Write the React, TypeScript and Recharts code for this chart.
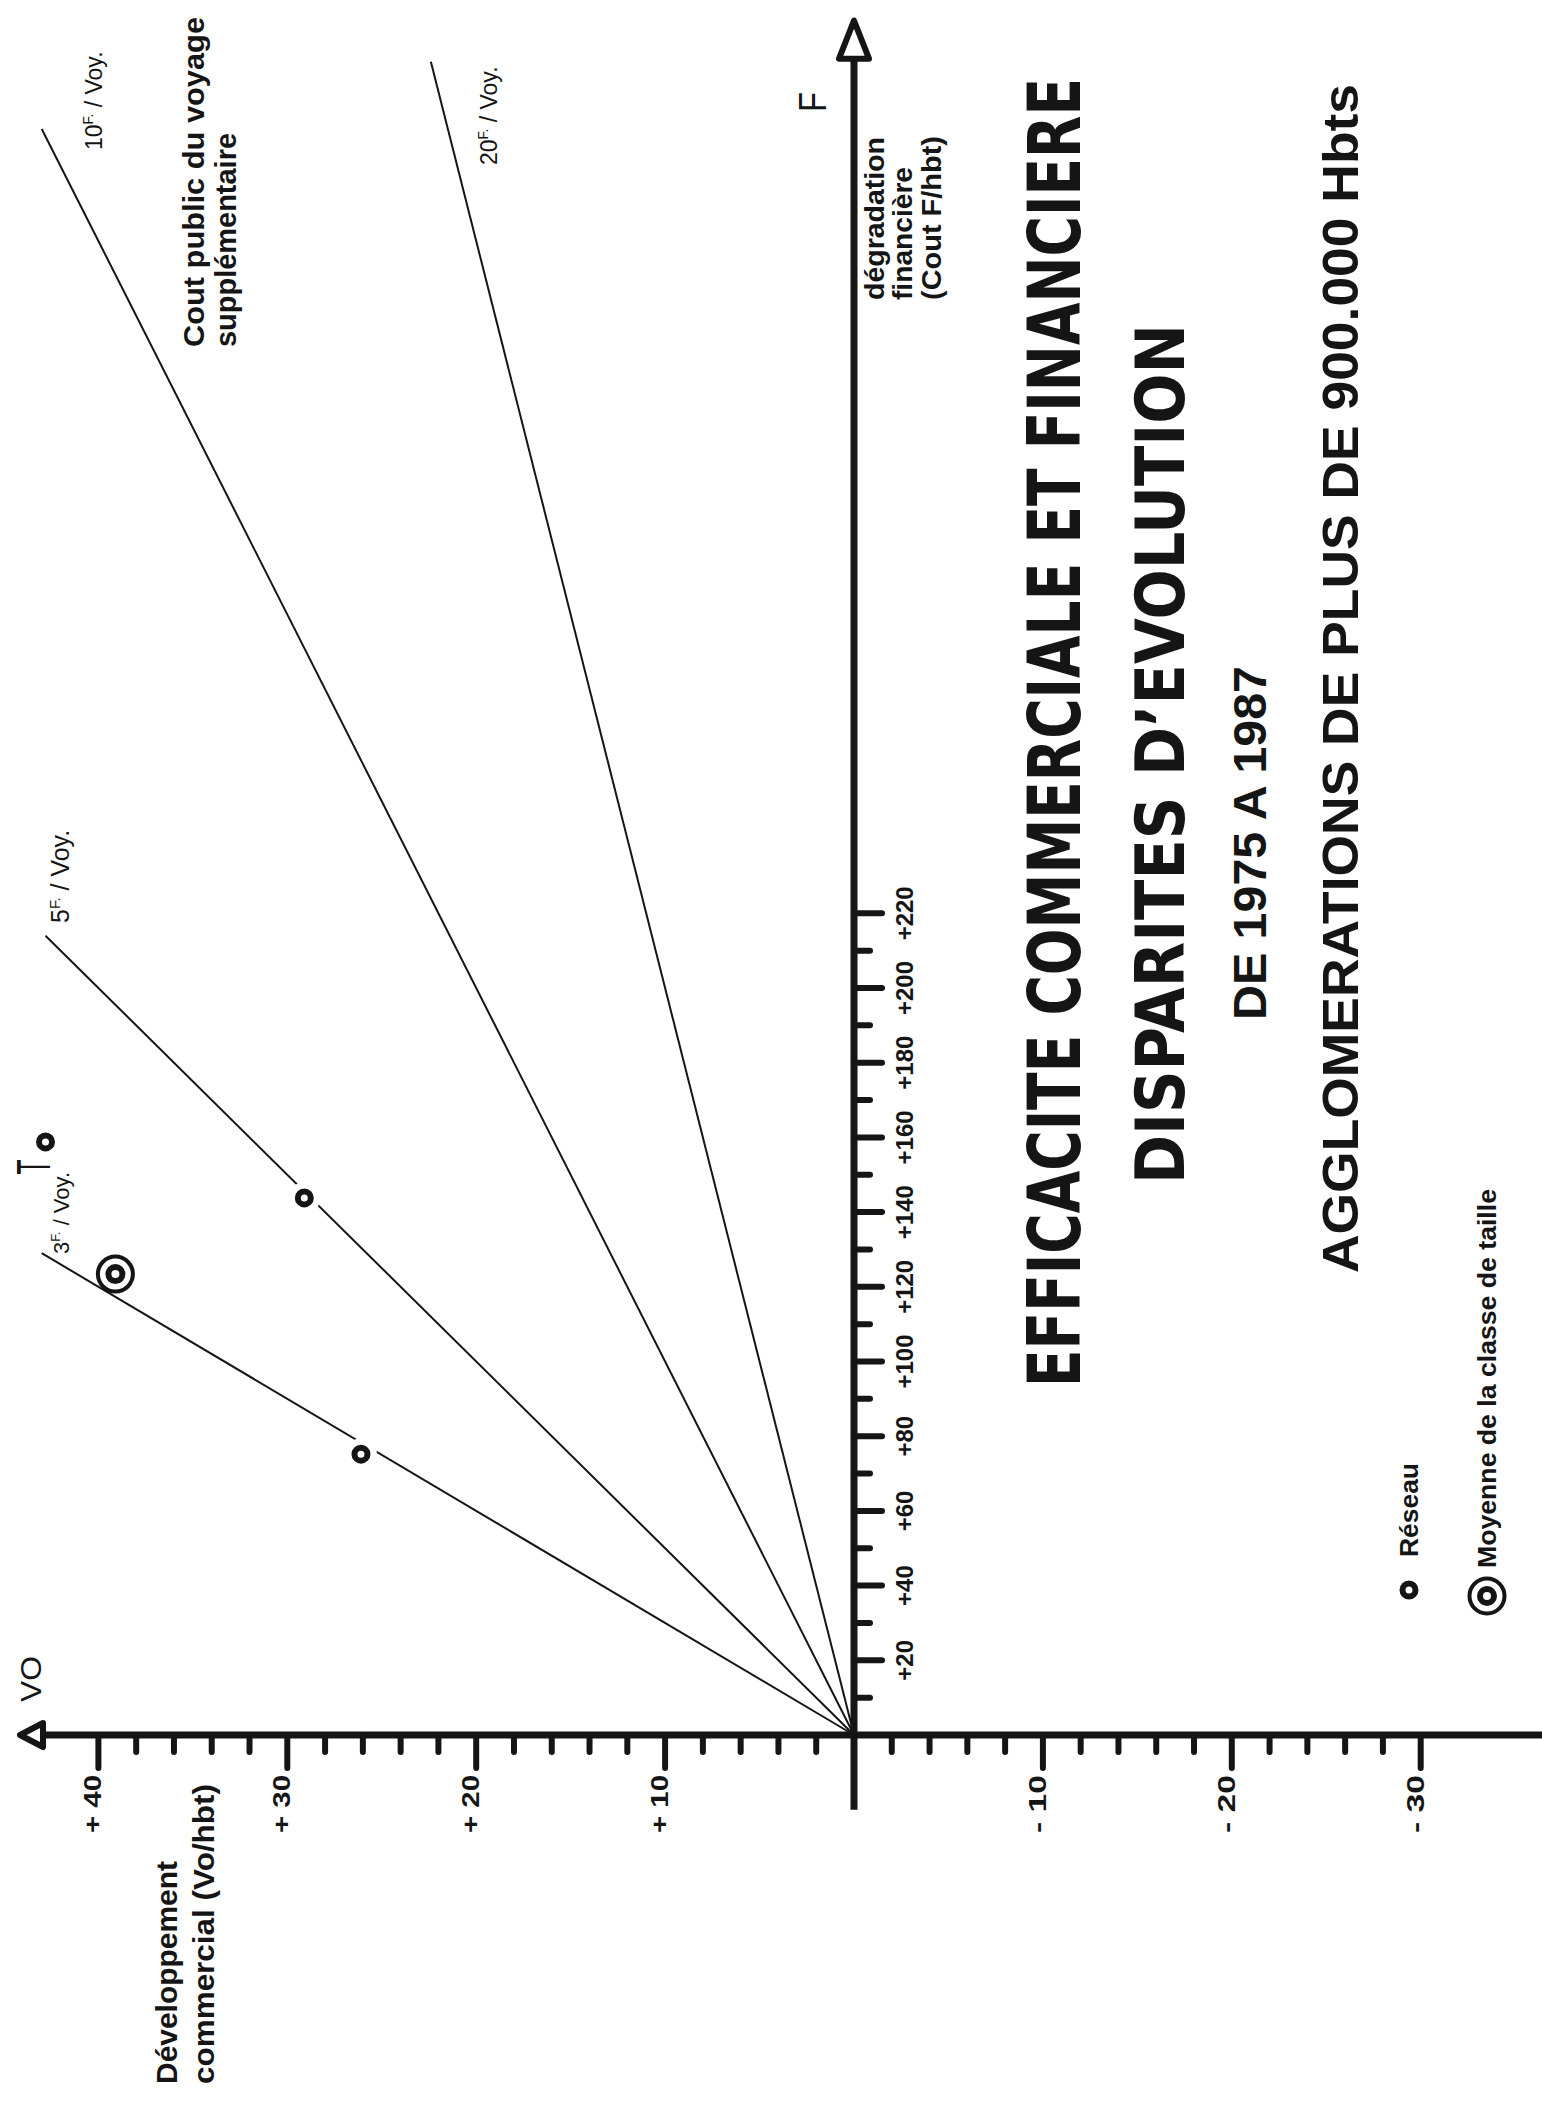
import { Scatter, ScatterChart, XAxis, YAxis } from "recharts";

// The scan is printed sideways: the chart is laid out in a landscape frame
// (F to the right, VO up) and the whole frame is turned a quarter left.
const PAGE_W = 1542;
const PAGE_H = 2101;
const W = PAGE_H;
const H = PAGE_W;

// scale (frame pixels)
const U0 = 366; // x of F = 0
const V0 = 854; // y of VO = 0
const F_PX = 3.735;
const VO_PX = 18.89;
const X_DOMAIN = [-U0 / F_PX, (W - U0) / F_PX];
const Y_DOMAIN = [(V0 - H) / VO_PX, V0 / VO_PX];

const INK = "#151515";
const SANS = "'Liberation Sans', Arial, Helvetica, sans-serif";
const COND = "'DejaVu Sans Condensed', 'DejaVu Sans', sans-serif";

// cost lines (F per extra voyage) and where each one stops on the VO scale
const rayCost = [3, 5, 10, 20];
const rayEndVO = [43.0, 42.8, 43.0, 22.4];

// Réseau points and class average
const reseauF = [75.2, 143.8, 158.8];
const reseauVO = [26.1, 29.1, 42.8];
const moyenneF = [123.4];
const moyenneVO = [39.1];

// axis extents
const fAxisRange = [-20, 449];
const fArrowTip = 459;
const voAxisRange = [-36.6, 42.9];
const voArrowTip = 44.15;

// ticks
const fTicks = [10, 20, 30, 40, 50, 60, 70, 80, 90, 100, 110, 120, 130, 140, 150, 160, 170, 180, 190, 200, 210, 220];
const fLabelValues = [20, 40, 60, 80, 100, 120, 140, 160, 180, 200, 220];
const fLabels = ["+20", "+40", "+60", "+80", "+100", "+120", "+140", "+160", "+180", "+200", "+220"];
const voTicks = [
  -30, -28, -26, -24, -22, -20, -18, -16, -14, -12, -10, -8, -6, -4, -2,
  2, 4, 6, 8, 10, 12, 14, 16, 18, 20, 22, 24, 26, 28, 30, 32, 34, 36, 38, 40,
];
const voLabelValues = [40, 30, 20, 10, -10, -20, -30];
const voLabels = ["+ 40", "+ 30", "+ 20", "+ 10", "- 10", "- 20", "- 30"];

const fTickData = fTicks.map((f) => {
  const i = fLabelValues.indexOf(f);
  return { f, vo: 0, label: i >= 0 ? fLabels[i] : null };
});
const voTickData = voTicks.map((vo) => {
  const i = voLabelValues.indexOf(vo);
  return { f: 0, vo, label: i >= 0 ? voLabels[i] : null };
});

const none = () => <g />;

function FTick(props: any) {
  const { cx, cy, payload } = props;
  const major = payload.label != null;
  return (
    <g>
      <line x1={cx} y1={cy} x2={cx} y2={cy + (major ? 28 : 16)} stroke={INK} strokeWidth={6} strokeLinecap="round" />
      {major && (
        <text x={cx} y={cy + 59} textAnchor="middle" fontSize={24} fontWeight="bold" fontFamily={SANS} fill={INK}>
          {payload.label}
        </text>
      )}
    </g>
  );
}

function VOTick(props: any) {
  const { cx, cy, payload } = props;
  const major = payload.label != null;
  return (
    <g>
      <line x1={cx} y1={cy} x2={cx - (major ? 33 : 17)} y2={cy} stroke={INK} strokeWidth={6} strokeLinecap="round" />
      {major && (
        <text x={cx - 40} y={cy + 3} textAnchor="end" fontSize={23} fontWeight="bold" fontFamily={SANS} fill={INK}
          textLength={58} lengthAdjust="spacingAndGlyphs">
          {payload.label}
        </text>
      )}
    </g>
  );
}

function FArrow(props: any) {
  const { cx, cy } = props;
  return (
    <path d={`M${cx},${cy} L${cx - 38},${cy - 15} L${cx - 38},${cy + 15} Z`}
      fill="#fff" stroke={INK} strokeWidth={6} strokeLinejoin="round" />
  );
}

function VOArrow(props: any) {
  const { cx, cy } = props;
  return (
    <path d={`M${cx},${cy} L${cx - 12},${cy + 23} L${cx + 12},${cy + 23} Z`}
      fill="#fff" stroke={INK} strokeWidth={6} strokeLinejoin="round" />
  );
}

function SmallRing(props: any) {
  const { cx, cy } = props;
  return (
    <g>
      <circle cx={cx} cy={cy} r={16} fill="#fff" />
      <circle cx={cx} cy={cy} r={6.5} fill="#fff" stroke={INK} strokeWidth={6} />
    </g>
  );
}

function BigRing(props: any) {
  const { cx, cy } = props;
  return (
    <g>
      <circle cx={cx} cy={cy} r={17.5} fill="#fff" stroke={INK} strokeWidth={4} />
      <circle cx={cx} cy={cy} r={7} fill="#fff" stroke={INK} strokeWidth={6} />
    </g>
  );
}

function Txt(p: {
  x: number; y: number; size: number; children: any; len?: number; sy?: number;
  weight?: string; family?: string; anchor?: string;
}) {
  const condensed = p.family === COND;
  return (
    <text
      transform={`translate(${p.x},${p.y}) scale(1,${p.sy ?? 1})`}
      fontSize={p.size} fontWeight={p.weight ?? "bold"} fontFamily={p.family ?? SANS}
      style={condensed ? { fontStretch: "condensed" } : undefined}
      textAnchor={p.anchor ?? "start"} fill={INK}
      textLength={p.len} lengthAdjust={p.len ? "spacingAndGlyphs" : undefined}>
      {p.children}
    </text>
  );
}

function CostLabel({ x, y, n, size }: { x: number; y: number; n: string; size: number }) {
  return (
    <text x={x} y={y} fontSize={size} fontFamily={SANS} fill={INK}>
      <tspan>{n}</tspan>
      <tspan dy={-9} fontSize={size * 0.6}>F.</tspan>
      <tspan dy={9}> / Voy.</tspan>
    </text>
  );
}

export default function App() {
  return (
    <div style={{ position: "absolute", left: 0, top: 0, width: PAGE_W, height: PAGE_H, overflow: "hidden", background: "#fff" }}>
      <div
        style={{
          position: "absolute", left: 0, top: 0, width: W, height: H,
          transformOrigin: "0 0", transform: `translateY(${PAGE_H}px) rotate(-90deg)`,
        }}
      >
        <ScatterChart width={W} height={H} margin={{ top: 0, right: 0, bottom: 0, left: 0 }}>
          <XAxis type="number" dataKey="f" domain={X_DOMAIN} hide allowDataOverflow />
          <YAxis type="number" dataKey="vo" domain={Y_DOMAIN} hide allowDataOverflow />

          {rayCost.map((c, i) => (
            <Scatter key={c} data={[{ f: 0, vo: 0 }, { f: c * rayEndVO[i], vo: rayEndVO[i] }]}
              line={{ stroke: INK, strokeWidth: 2 }} shape={none} isAnimationActive={false} />
          ))}

          <Scatter data={fAxisRange.map((f) => ({ f, vo: 0 }))} line={{ stroke: INK, strokeWidth: 7 }}
            shape={none} isAnimationActive={false} />
          <Scatter data={voAxisRange.map((vo) => ({ f: 0, vo }))} line={{ stroke: INK, strokeWidth: 7 }}
            shape={none} isAnimationActive={false} />
          <Scatter data={fTickData} shape={FTick} isAnimationActive={false} />
          <Scatter data={voTickData} shape={VOTick} isAnimationActive={false} />
          <Scatter data={[{ f: fArrowTip, vo: 0 }]} shape={FArrow} isAnimationActive={false} />
          <Scatter data={[{ f: 0, vo: voArrowTip }]} shape={VOArrow} isAnimationActive={false} />

          <Scatter name="Réseau" data={reseauF.map((f, i) => ({ f, vo: reseauVO[i] }))} shape={SmallRing}
            isAnimationActive={false} />
          <Scatter name="Moyenne de la classe de taille" data={moyenneF.map((f, i) => ({ f, vo: moyenneVO[i] }))}
            shape={BigRing} isAnimationActive={false} />
        </ScatterChart>

        <svg width={W} height={H} style={{ position: "absolute", left: 0, top: 0, pointerEvents: "none" }}>
          {/* axis titles */}
          <Txt x={399} y={41} size={29} weight="normal" len={46}>VO</Txt>
          <Txt x={17} y={177} size={30} len={223}>Développement</Txt>
          <Txt x={17} y={214} size={30} len={300}>commercial (Vo/hbt)</Txt>
          <Txt x={1989} y={826} size={38} weight="normal" len={20}>F</Txt>
          <Txt x={1801} y={884} size={28} len={163}>dégradation</Txt>
          <Txt x={1801} y={912} size={28} len={133}>financière</Txt>
          <Txt x={1801} y={941} size={28} len={164}>(Cout F/hbt)</Txt>

          {/* cost line labels */}
          <Txt x={1754} y={204} size={30} len={330}>Cout public du voyage</Txt>
          <Txt x={1754} y={236} size={30} len={214}>supplémentaire</Txt>
          <CostLabel x={1951} y={102} n="10" size={23} />
          <CostLabel x={1936} y={497} n="20" size={23} />
          <CostLabel x={1178} y={69} n="5" size={25} />
          <CostLabel x={847} y={69} n="3" size={22} />
          <Txt x={927} y={50} size={44} weight="normal" family={COND} len={14}>T</Txt>

          {/* titles */}
          <Txt x={714} y={1080} size={56} sy={1.3} family={COND} len={1309}>EFFICACITE COMMERCIALE ET FINANCIERE</Txt>
          <Txt x={917} y={1184} size={62} sy={1.1} family={COND} len={860}>DISPARITES D’EVOLUTION</Txt>
          <Txt x={1081} y={1266} size={46} len={354}>DE 1975 A 1987</Txt>
          <Txt x={828} y={1358} size={50} len={1189}>AGGLOMERATIONS DE PLUS DE 900.000 Hbts</Txt>

          {/* legend */}
          <SmallRing cx={511} cy={1409} />
          <Txt x={544} y={1418} size={26} len={94}>Réseau</Txt>
          <BigRing cx={505} cy={1487} />
          <Txt x={533} y={1496} size={26} len={379}>Moyenne de la classe de taille</Txt>
        </svg>
      </div>
    </div>
  );
}
